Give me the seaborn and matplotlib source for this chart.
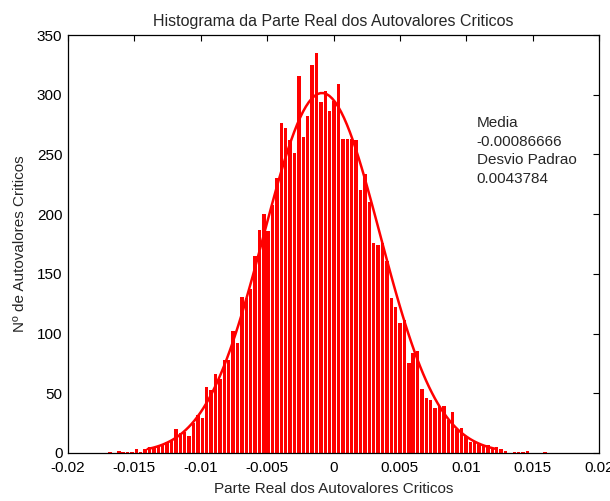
import numpy as np
import pandas as pd
import matplotlib
matplotlib.use("Agg")
import matplotlib.pyplot as plt
import seaborn as sns

# Histogram: 100 equal bins over the observed range of the real parts
bin_lo = -0.0170
bin_hi = 0.0161
n_bins = 100
counts = [
    1, 0, 2, 1, 1, 1, 3, 1, 3, 5,
    4, 6, 7, 9, 11, 20, 17, 18, 14, 25,
    32, 29, 55, 53, 66, 62, 78, 78, 102, 92,
    131, 130, 137, 165, 187, 200, 186, 208, 230, 276,
    272, 262, 251, 316, 265, 282, 325, 335, 294, 303,
    286, 295, 309, 263, 263, 263, 262, 220, 234, 210,
    176, 174, 176, 161, 130, 122, 109, 111, 75, 84,
    85, 54, 46, 44, 38, 39, 39, 28, 34, 20,
    21, 14, 9, 10, 8, 6, 7, 3, 5, 3,
    2, 0, 1, 1, 1, 2, 0, 0, 0, 1,
]
media = -0.00086666
desvio = 0.0043784

title = "Histograma da Parte Real dos Autovalores Criticos"
xlabel = "Parte Real dos Autovalores Criticos"
ylabel = "Nº de Autovalores Criticos"
xticks = [-0.02, -0.015, -0.01, -0.005, 0, 0.005, 0.01, 0.015, 0.02]
xticklabels = ["-0.02", "-0.015", "-0.01", "-0.005", "0", "0.005", "0.01", "0.015", "0.02"]
yticks = [0, 50, 100, 150, 200, 250, 300, 350]
info_lines = ["Media", "{:.8f}".format(media), "Desvio Padrao", "{:.7f}".format(desvio)]

sns.set_theme(style="white")
plt.rcParams["font.family"] = ["Liberation Sans", "DejaVu Sans"]
FS = 11

edges = np.linspace(bin_lo, bin_hi, n_bins + 1)
width = edges[1] - edges[0]
centers = (edges[:-1] + edges[1:]) / 2
df = pd.DataFrame({"x": centers, "n": counts})

fig = plt.figure(figsize=(6.10, 5.01), dpi=100)
ax = fig.add_axes([68 / 610, 1 - 453 / 501, (599 - 68) / 610, (453 - 35) / 501])

sns.histplot(data=df, x="x", weights="n", bins=n_bins, binrange=(bin_lo, bin_hi),
             color="#ff0000", alpha=1.0, shrink=0.78, linewidth=0, ax=ax)

# Fitted normal curve over mean +/- 3 sigma, scaled to the histogram
total = float(np.sum(counts))
xs = np.linspace(media - 3 * desvio, media + 3 * desvio, 120)
ys = total * width / (desvio * np.sqrt(2 * np.pi)) * np.exp(-0.5 * ((xs - media) / desvio) ** 2)
sns.lineplot(x=xs, y=ys, color="#ff0000", linewidth=1.8, ax=ax)

ax.set_xlim(-0.02, 0.02)
ax.set_ylim(0, 350)
ax.set_xticks(xticks)
ax.set_xticklabels(xticklabels)
ax.set_yticks(yticks)
ax.tick_params(direction="in", length=4.3, width=0.8, top=True, right=True,
               labelsize=FS, colors="black")
ax.tick_params(axis="x", pad=6)
ax.tick_params(axis="y", pad=4)
for s in ax.spines.values():
    s.set_visible(True)
    s.set_color("black")
    s.set_linewidth(0.9)

ax.set_title(title, fontsize=11.5, pad=6.5)
ax.set_xlabel(xlabel, fontsize=FS, labelpad=5)
ax.set_ylabel(ylabel, fontsize=FS, labelpad=7)

# Summary statistics, one text per line
for k, (line, yv) in enumerate(zip(info_lines, [273.0, 257.3, 241.8, 226.1])):
    ax.text(0.0108, yv, line, fontsize=FS, va="baseline", ha="left")

fig.savefig("out.png", dpi=100)
